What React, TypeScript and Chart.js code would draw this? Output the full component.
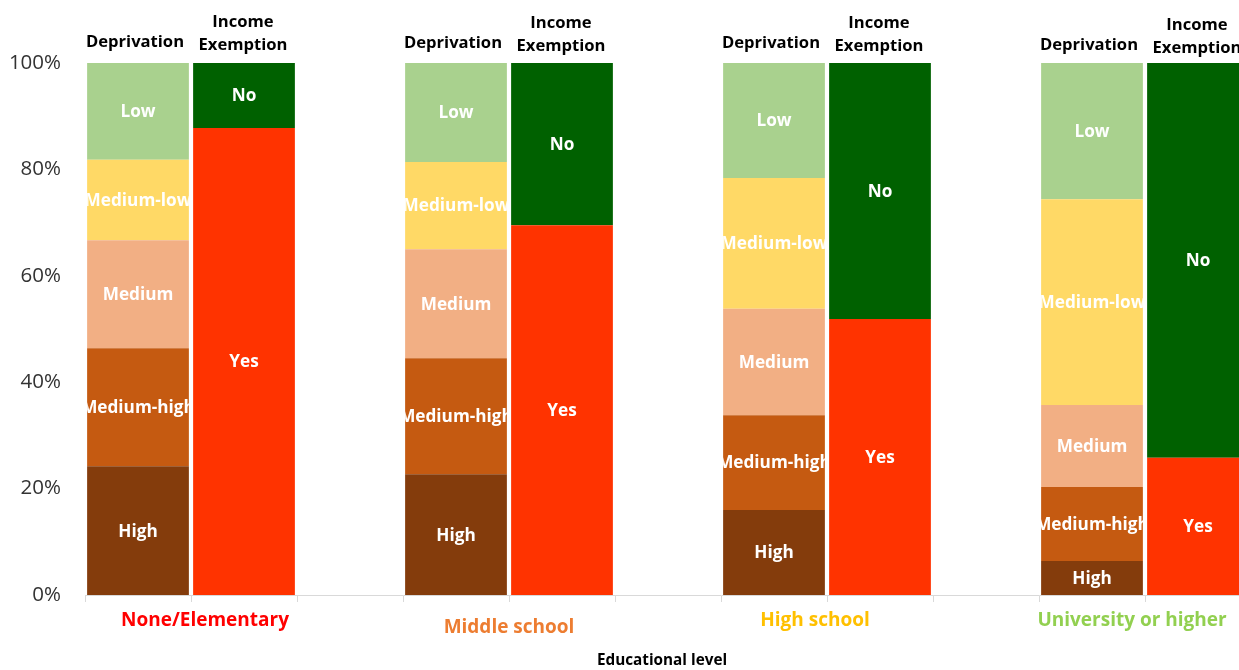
import { useEffect, useRef } from "react";
import { Chart, registerables } from "chart.js";

Chart.register(...registerables);

// Educational groups along the x axis
const groups = ["None/Elementary", "Middle school", "High school", "University or higher"];
const groupColors = ["#FF0000", "#ED7D31", "#FFC000", "#92D050"];

// Deprivation shares (%) per group, bottom to top
const high = [24.2, 22.7, 16.0, 6.4];
const mediumHigh = [22.2, 21.8, 17.8, 13.9];
const medium = [20.3, 20.5, 20.0, 15.4];
const mediumLow = [15.1, 16.4, 24.6, 38.7];
const low = [18.2, 18.6, 21.6, 25.6];

// Income exemption shares (%) per group
const exemptYes = [87.8, 69.5, 51.9, 25.8];
const exemptNo = [12.2, 30.5, 48.1, 74.2];

const yTickStep = 20;

// Three slots per group: deprivation bar, exemption bar, spacer
const slots = groups.flatMap((g) => [`${g}: deprivation`, `${g}: exemption`, `${g}: spacer`]);

// Small text nudges for the group captions and column headers
const captionShift = [
  { dx: 14, dy: 621 },
  { dx: 0, dy: 628 },
  { dx: -12, dy: 621 },
  { dx: -13, dy: 621 },
];
const headerShift = [0, 1, 1, 3];

const FONT = "'Open Sans', 'DejaVu Sans', sans-serif";

function placed(values: number[], offset: number) {
  return slots.map((_, i) => (i % 3 === offset ? values[Math.floor(i / 3)] : null));
}

const depSeries = [
  { label: "High", values: high, color: "#843C0C" },
  { label: "Medium-high", values: mediumHigh, color: "#C55A11" },
  { label: "Medium", values: medium, color: "#F2AF84" },
  { label: "Medium-low", values: mediumLow, color: "#FFD966" },
  { label: "Low", values: low, color: "#A9D18E" },
];
const incSeries = [
  { label: "Yes", values: exemptYes, color: "#FF3300" },
  { label: "No", values: exemptNo, color: "#006100" },
];

const segmentLabels = {
  id: "segmentLabels",
  afterDatasetsDraw(chart: any) {
    const ctx = chart.ctx;
    ctx.save();
    ctx.font = `700 17.2px ${FONT}`;
    ctx.fillStyle = "#FFFFFF";
    ctx.textAlign = "center";
    ctx.textBaseline = "middle";
    chart.data.datasets.forEach((ds: any, di: number) => {
      const meta = chart.getDatasetMeta(di);
      meta.data.forEach((el: any, i: number) => {
        if (ds.data[i] == null) return;
        const { x, y, base, width } = el.getProps(["x", "y", "base", "width"], true);
        const top = Math.min(y, base);
        const h = Math.abs(base - y);
        ctx.save();
        ctx.beginPath();
        ctx.rect(x - width / 2, top, width, h);
        ctx.clip();
        ctx.fillText(ds.label, x, top + h / 2 + 1);
        ctx.restore();
      });
    });
    ctx.restore();
  },
};

const annotations = {
  id: "annotations",
  afterDraw(chart: any) {
    const ctx = chart.ctx;
    const xs = chart.scales.x;
    ctx.save();
    ctx.textAlign = "center";
    ctx.textBaseline = "middle";
    groups.forEach((g, gi) => {
      const xDep = xs.getPixelForValue(gi * 3);
      const xInc = xs.getPixelForValue(gi * 3 + 1);
      const s = headerShift[gi];
      ctx.fillStyle = "#000000";
      ctx.font = `700 16.6px ${FONT}`;
      ctx.fillText("Deprivation", xDep - 3, 42 + s);
      ctx.fillText("Income", xInc - 1, 22 + s);
      ctx.fillText("Exemption", xInc - 1, 45 + s);

      ctx.font = `700 19px ${FONT}`;
      ctx.fillStyle = groupColors[gi];
      const mid = (xDep + xInc) / 2;
      ctx.fillText(g, mid + captionShift[gi].dx, captionShift[gi].dy);
    });
    ctx.fillStyle = "#000000";
    ctx.font = `700 15.3px ${FONT}`;
    ctx.fillText("Educational level", 662, 661);
    ctx.restore();
  },
};

export default function App() {
  const canvasRef = useRef<HTMLCanvasElement | null>(null);

  useEffect(() => {
    const canvas = canvasRef.current;
    if (!canvas) return;
    const datasets = [
      ...depSeries.map((s) => ({
        label: s.label,
        data: placed(s.values, 0),
        backgroundColor: s.color,
        borderWidth: 0,
      })),
      ...incSeries.map((s) => ({
        label: s.label,
        data: placed(s.values, 1),
        backgroundColor: s.color,
        borderWidth: 0,
      })),
    ];
    const chart = new Chart(canvas, {
      type: "bar",
      data: { labels: slots, datasets },
      options: {
        responsive: false,
        animation: false,
        barPercentage: 0.96,
        categoryPercentage: 1,
        layout: { padding: { left: 0, top: 63, right: 23, bottom: 0 } },
        plugins: {
          legend: { display: false },
          tooltip: { enabled: false },
        },
        scales: {
          x: {
            stacked: true,
            offset: true,
            grid: {
              display: true,
              offset: true,
              drawOnChartArea: false,
              drawTicks: true,
              tickLength: 7,
              color: "#D9D9D9",
              lineWidth: 1,
            },
            border: { display: true, color: "#D9D9D9", width: 1 },
            ticks: { display: false, autoSkip: false },
            afterFit: (scale: any) => {
              scale.height = 75;
            },
          },
          y: {
            stacked: true,
            min: 0,
            max: 100,
            grid: { display: false, drawTicks: false },
            border: { display: false },
            ticks: {
              stepSize: yTickStep,
              padding: 24,
              color: "#333333",
              font: { family: FONT, size: 20.5 },
              callback: (v: any) => `${v}%`,
            },
            afterFit: (scale: any) => {
              scale.width = 85;
            },
          },
        },
      },
      plugins: [segmentLabels, annotations],
    });
    return () => chart.destroy();
  }, []);

  return (
    <div
      style={{
        position: "fixed",
        left: 0,
        top: 0,
        width: 1239,
        height: 670,
        overflow: "hidden",
        background: "#FFFFFF",
      }}
    >
      <canvas ref={canvasRef} width={1380} height={670} style={{ display: "block" }} />
    </div>
  );
}
